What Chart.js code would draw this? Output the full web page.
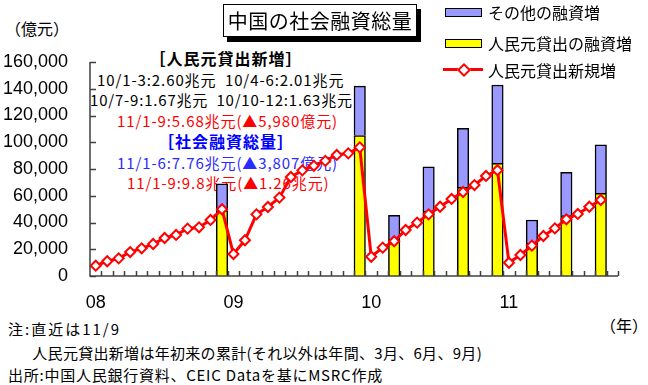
<!DOCTYPE html>
<html lang="ja">
<head>
<meta charset="utf-8">
<script src="https://cdn.jsdelivr.net/npm/chart.js@4/dist/chart.umd.min.js"></script>
<style>
  html, body { margin: 0; padding: 0; background: #fff; }
  #wrap { position: relative; width: 648px; height: 385px; overflow: hidden; font-family: "Noto Sans CJK JP", sans-serif; color: #000; }
  #chart { position: absolute; left: 0; top: 0; z-index: 1; }
  .t { position: absolute; white-space: pre; line-height: 1; z-index: 0; }
  #title { position: absolute; left: 223px; top: 4px; width: 192px; height: 31px; border: 1.5px solid #000; background: #fff;
           box-shadow: 4px 5px 0 #000; font-size: 20px; line-height: 31px; text-align: center; letter-spacing: 0.5px; z-index: 2; }
  .sw { position: absolute; width: 35px; height: 7px; border: 1.5px solid #000; z-index: 2; }
</style>
</head>
<body>
<div id="wrap">
  <canvas id="chart" width="648" height="385"></canvas>
  <div id="title">中国の社会融資総量</div>
</div>
<script>
// Monthly categories, Jan 2008 – Oct 2011 (the last slot is left empty)
const categories = [
  '08/01','08/02','08/03','08/04','08/05','08/06','08/07','08/08','08/09','08/10','08/11','08/12',
  '09/01','09/02','09/03','09/04','09/05','09/06','09/07','09/08','09/09','09/10','09/11','09/12',
  '10/01','10/02','10/03','10/04','10/05','10/06','10/07','10/08','10/09','10/10','10/11','10/12',
  '11/01','11/02','11/03','11/04','11/05','11/06','11/07','11/08','11/09','11/10'
];
const yearTickLabels = ['08', '09', '10', '11'];
const yTicks = [0, 20000, 40000, 60000, 80000, 100000, 120000, 140000, 160000];

// New RMB loans, year-to-date cumulative (100 million yuan)
const rmbLoanYtd = [
  7700, 11000, 13200, 17900, 20700, 23900, 28400, 30700, 35400, 36400, 41900, 49900,
  16400, 26700, 46100, 51600, 58600, 74000, 79000, 82400, 86100, 90500, 91700, 96200,
  14400, 21200, 26000, 34400, 39900, 46100, 51800, 57600, 62800, 68000, 74800, 79100,
  9900, 15700, 22700, 29900, 35600, 42400, 46400, 51800, 56800, null
];

// Total social financing (year, Jan-Mar, Jan-Jun, Jan-Sep) and its RMB-loan part
const tsfMonths = ['08/12', '09/12', '10/03', '10/06', '10/09', '10/12', '11/03', '11/06', '11/09'];
const tsfTotal  = [69000, 142000, 45400, 81700, 110400, 142800, 41900, 77600, 98000];
const tsfRmbLoan = [49000, 105000, 27400, 48600, 66300, 84200, 24400, 45100, 61800];

const legendLabels = ['その他の融資増', '人民元貸出の融資増', '人民元貸出新規増'];

// Spread the quarterly/annual values onto the monthly axis
const loanPart = categories.map(() => null);
const otherPart = categories.map(() => null);
tsfMonths.forEach((m, i) => {
  const k = categories.indexOf(m);
  loanPart[k] = tsfRmbLoan[i];
  otherPart[k] = tsfTotal[i] - tsfRmbLoan[i];
});

// Inward tick marks and axis lines
const axisPlugin = {
  id: 'axisTicks',
  afterDatasetsDraw(chart) {
    const { ctx, chartArea: a, scales: { x, y } } = chart;
    ctx.save();
    ctx.strokeStyle = '#404040';
    ctx.lineWidth = 1.5;
    ctx.beginPath();
    ctx.moveTo(a.left, a.top);
    ctx.lineTo(a.left, a.bottom);
    ctx.lineTo(a.right, a.bottom);
    yTicks.forEach(v => {
      const py = Math.round(y.getPixelForValue(v)) + 0.5;
      ctx.moveTo(a.left, py);
      ctx.lineTo(a.left + 6, py);
    });
    for (let i = 1; i <= categories.length; i++) {
      const px = i < categories.length
        ? (x.getPixelForValue(i - 1) + x.getPixelForValue(i)) / 2
        : a.right;
      const rx = Math.round(px) + 0.5;
      ctx.moveTo(rx, a.bottom);
      ctx.lineTo(rx, a.bottom - 5);
    }
    ctx.stroke();
    ctx.restore();
  }
};

new Chart(document.getElementById('chart'), {
  data: {
    labels: categories,
    datasets: [
      {
        type: 'line',
        label: legendLabels[2],
        data: rmbLoanYtd,
        borderColor: '#ff0000',
        borderWidth: 3,
        pointStyle: 'rectRot',
        pointRadius: 5,
        pointBorderWidth: 2,
        pointBackgroundColor: '#ffffff',
        pointBorderColor: '#ff0000',
        stack: 'loan',
        order: 0,
        spanGaps: false
      },
      {
        type: 'bar',
        label: legendLabels[1],
        data: loanPart,
        backgroundColor: '#ffff00',
        borderColor: '#000000',
        borderWidth: 1.5,
        barPercentage: 1,
        categoryPercentage: 1,
        stack: 'tsf',
        order: 1
      },
      {
        type: 'bar',
        label: legendLabels[0],
        data: otherPart,
        backgroundColor: '#9999ff',
        borderColor: '#000000',
        borderWidth: 1.5,
        barPercentage: 1,
        categoryPercentage: 1,
        stack: 'tsf',
        order: 1
      }
    ]
  },
  options: {
    responsive: false,
    animation: false,
    devicePixelRatio: 1,
    layout: { padding: { top: 62, right: 30, left: 0, bottom: 0 } },
    plugins: { legend: { display: false }, tooltip: { enabled: false } },
    scales: {
      x: {
        stacked: true,
        grid: { display: false, drawTicks: false },
        border: { display: false },
        ticks: {
          autoSkip: false,
          maxRotation: 0,
          padding: 16,
          color: '#000',
          font: { family: 'Liberation Sans', size: 18 },
          callback(v) {
            const lab = categories[v];
            const yr = lab.slice(0, 2);
            return lab.endsWith('/01') && yearTickLabels.includes(yr) ? yr : '';
          }
        },
        afterFit(s) { s.height = 109; }
      },
      y: {
        stacked: true,
        min: 0,
        max: 160000,
        grid: { display: false, drawTicks: false },
        border: { display: false },
        ticks: {
          stepSize: 20000,
          padding: 22,
          color: '#000',
          font: { family: 'Liberation Sans', size: 18 },
          callback: v => v.toLocaleString('en-US')
        },
        afterFit(s) { s.width = 90; }
      }
    }
  },
  plugins: [axisPlugin]
});

// Text placed around the plot
const wrap = document.getElementById('wrap');
function addText(str, opts) {
  const d = document.createElement('div');
  d.className = 't';
  d.textContent = str;
  d.style.fontSize = opts.size + 'px';
  d.style.top = (opts.cy - opts.size / 2) + 'px';
  if (opts.color) d.style.color = opts.color;
  if (opts.bold) d.style.fontWeight = 'bold';
  if (opts.ls !== undefined) d.style.letterSpacing = opts.ls + 'px';
  if (opts.z !== undefined) d.style.zIndex = opts.z;
  wrap.appendChild(d);
  if (opts.cx !== undefined) d.style.left = (opts.cx - d.offsetWidth / 2) + 'px';
  else d.style.left = opts.x + 'px';
  return d;
}

addText('（億元）', { x: 5, cy: 28, size: 16 });
addText('（年）', { x: 600, cy: 325, size: 16 });

// Figures quoted in the plot
addText('［人民元貸出新増］', { cx: 226, cy: 58, size: 16, bold: true, ls: 1 });
addText('10/1-3:2.60兆元  10/4-6:2.01兆元', { x: 97, cy: 79, size: 15, ls: 0.9 });
addText('10/7-9:1.67兆元  10/10-12:1.63兆元', { x: 90, cy: 99, size: 15, ls: 0.8 });
addText('11/1-9:5.68兆元(▲5,980億元)', { x: 117, cy: 120, size: 15, ls: 0.9, color: '#ff0000' });
addText('［社会融資総量］', { cx: 226, cy: 141, size: 16, bold: true, ls: 1, color: '#0000ff' });
addText('11/1-6:7.76兆元(▲3,807億元)', { x: 117, cy: 162, size: 15, ls: 0.9, color: '#2b2bff' });
addText('11/1-9:9.8兆元(▲1.26兆元)', { x: 127, cy: 182, size: 15, ls: 0.9, color: '#ff0000' });

// Legend
function addBox(css) {
  const d = document.createElement('div');
  d.style.cssText = css;
  wrap.appendChild(d);
}
addBox('position:absolute;left:445px;top:8px;width:35px;height:7px;border:1.5px solid #000;background:#9999ff;z-index:2;');
addBox('position:absolute;left:445px;top:39px;width:35px;height:7px;border:1.5px solid #000;background:#ffff00;z-index:2;');
addBox('position:absolute;left:443px;top:68px;width:40px;height:3px;background:#ff0000;z-index:2;');
addBox('position:absolute;left:459px;top:65px;width:6px;height:6px;background:#fff;border:2px solid #ff0000;transform:rotate(45deg);z-index:3;');
addText(legendLabels[0], { x: 488, cy: 12, size: 16, z: 2 });
addText(legendLabels[1], { x: 488, cy: 43, size: 16, z: 2 });
addText(legendLabels[2], { x: 488, cy: 70, size: 16, z: 2 });

// Notes and source
addText('注:直近は11/9', { x: 8, cy: 328, size: 15, ls: 2 });
addText('　人民元貸出新増は年初来の累計(それ以外は年間、3月、6月、9月)', { x: 17, cy: 352, size: 15, ls: 0.3 });
addText('出所:中国人民銀行資料、CEIC Dataを基にMSRC作成', { x: 8, cy: 374, size: 15, ls: 0.75 });
</script>
</body>
</html>
